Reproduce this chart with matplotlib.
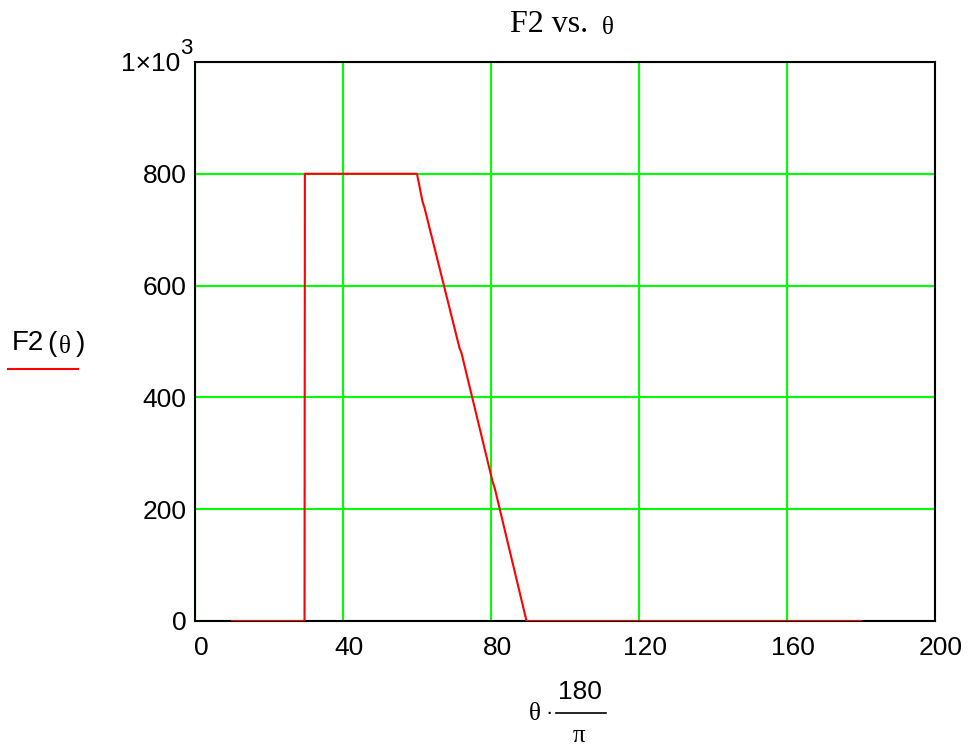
import numpy as np
import matplotlib.pyplot as plt
from matplotlib.transforms import ScaledTranslation

# F2 force curve against the angle in degrees
theta_deg = [10, 29.6, 29.7, 60, 61.5, 62, 71.5, 72, 80.4, 81, 89.6, 180]
f2_values = [0, 0, 800, 800, 750, 740, 488, 480, 250, 238, 0, 0]

x_ticks = [0, 40, 80, 120, 160, 200]
y_ticks = [0, 200, 400, 600, 800, 1000]
y_tick_labels = ['0', '200', '400', '600', '800', '']

sans = 'Liberation Sans'
serif = 'Liberation Serif'
tick_fs = 19

fig = plt.figure(figsize=(9.68, 7.48), dpi=100)
ax = fig.add_axes([195 / 968, 1 - 621 / 748, 740 / 968, 559 / 748])

ax.plot(theta_deg, f2_values, color='#ff0000', linewidth=1.5, zorder=3)

ax.set_xlim(0, 200)
ax.set_ylim(0, 1000)
ax.set_xticks(x_ticks)
ax.set_yticks(y_ticks)
ax.set_xticklabels([str(t) for t in x_ticks], fontsize=tick_fs, family=sans)
ax.set_yticklabels(y_tick_labels, fontsize=tick_fs, family=sans)
ax.tick_params(axis='y', length=0, pad=6)
ax.tick_params(axis='x', length=0, pad=11)
shift = ScaledTranslation(6 / 100, 0, fig.dpi_scale_trans)
for lbl in ax.get_xticklabels():
    lbl.set_transform(lbl.get_transform() + shift)
ax.grid(True, color='#00ff00', linewidth=1.5)
ax.set_axisbelow(True)
for sp in ax.spines.values():
    sp.set_color('black')
    sp.set_linewidth(1.5)

# 1x10^3 label at the top of the y axis
fig.text(180 / 968, 1 - 64 / 748, '1\u00d710', ha='right', va='center',
         fontsize=tick_fs, family=sans)
fig.text(180 / 968, 1 - 48 / 748, '3', ha='left', va='center',
         fontsize=16, family=sans)

# title
fig.text(596 / 968, 1 - 24 / 748, 'F2 vs. ', ha='right', va='center',
         fontsize=23, family=serif)
fig.text(602 / 968, 1 - 28 / 748, '\u03b8', ha='left', va='center',
         fontsize=18, family=serif)

# y axis label with trace legend line
fig.text(12 / 968, 1 - 343 / 748, 'F2', ha='left', va='center',
         fontsize=20, family=sans)
fig.text(47 / 968, 1 - 344 / 748, '(', ha='left', va='center',
         fontsize=20, family=sans)
fig.text(59 / 968, 1 - 347 / 748, '\u03b8', ha='left', va='center',
         fontsize=18, family=serif)
fig.text(76 / 968, 1 - 344 / 748, ')', ha='left', va='center',
         fontsize=20, family=sans)
fig.add_artist(plt.Line2D([8 / 968, 78 / 968], [1 - 369 / 748, 1 - 369 / 748],
                          color='#ff0000', linewidth=1.5))

# x axis label: theta * 180 / pi
fig.text(535 / 968, 1 - 714 / 748, '\u03b8', ha='center', va='center',
         fontsize=18, family=serif)
fig.text(549 / 968, 1 - 713 / 748, '\u00b7', ha='center', va='center',
         fontsize=16, family=sans)
fig.text(580 / 968, 1 - 692 / 748, '180', ha='center', va='center',
         fontsize=tick_fs, family=sans)
fig.add_artist(plt.Line2D([556 / 968, 606 / 968], [1 - 713 / 748, 1 - 713 / 748],
                          color='black', linewidth=1.2))
fig.text(579 / 968, 1 - 736 / 748, '\u03c0', ha='center', va='center',
         fontsize=18, family=serif)

fig.savefig('out.png', dpi=100)
